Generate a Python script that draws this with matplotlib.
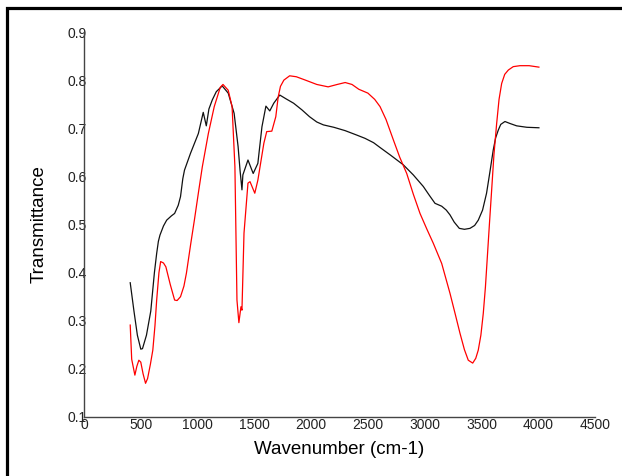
import numpy as np
import matplotlib
matplotlib.use('Agg')
import matplotlib.pyplot as plt
from matplotlib.patches import Rectangle

plt.rcParams['font.family'] = ['Liberation Sans', 'DejaVu Sans']

# 黑色曲线
black_x = [407, 440, 470, 500, 515, 550, 588, 620, 640, 655, 669, 700, 728, 770, 798, 830,
           850, 870, 885, 938, 1007, 1050, 1077, 1100, 1130, 1165, 1217, 1270, 1322, 1357,
           1374, 1391, 1399, 1444, 1490, 1531, 1567, 1602, 1636, 1671, 1724, 1780, 1846,
           1920, 1986, 2050, 2108, 2200, 2300, 2400, 2475, 2550, 2607, 2700, 2812, 2900,
           2988, 3040, 3091, 3150, 3190, 3223, 3260, 3305, 3350, 3399, 3440, 3472, 3510,
           3545, 3575, 3604, 3625, 3648, 3670, 3707, 3750, 3810, 3900, 4006]
black_y = [0.379, 0.320, 0.270, 0.241, 0.242, 0.270, 0.320, 0.400, 0.440, 0.465, 0.478, 0.497,
           0.509, 0.518, 0.523, 0.540, 0.558, 0.595, 0.613, 0.648, 0.689, 0.733, 0.705, 0.740,
           0.759, 0.776, 0.788, 0.773, 0.731, 0.662, 0.613, 0.572, 0.603, 0.634, 0.606, 0.627,
           0.703, 0.746, 0.736, 0.752, 0.769, 0.761, 0.752, 0.738, 0.724, 0.713, 0.707, 0.702,
           0.695, 0.686, 0.679, 0.670, 0.660, 0.644, 0.624, 0.603, 0.579, 0.561, 0.544, 0.538,
           0.530, 0.520, 0.505, 0.492, 0.490, 0.492, 0.498, 0.509, 0.530, 0.565, 0.610, 0.655,
           0.680, 0.696, 0.708, 0.714, 0.710, 0.705, 0.702, 0.701]

# 红色曲线
red_x = [407, 420, 448, 465, 483, 500, 520, 542, 560, 585, 606, 625, 640, 660, 675, 700, 721,
         760, 798, 820, 850, 880, 902, 940, 972, 1010, 1042, 1095, 1147, 1200, 1224, 1270,
         1304, 1329, 1347, 1364, 1382, 1391, 1409, 1444, 1462, 1504, 1531, 1584, 1609, 1654,
         1689, 1710, 1730, 1760, 1811, 1870, 1950, 2050, 2150, 2230, 2300, 2360, 2420, 2500,
         2560, 2607, 2660, 2724, 2780, 2842, 2900, 2959, 3020, 3076, 3150, 3190, 3223, 3270,
         3311, 3350, 3384, 3423, 3450, 3472, 3495, 3516, 3535, 3552, 3570, 3590, 3610, 3634,
         3655, 3678, 3705, 3737, 3780, 3839, 3920, 4006]
red_y = [0.291, 0.220, 0.187, 0.205, 0.218, 0.214, 0.190, 0.170, 0.180, 0.210, 0.239, 0.290,
         0.343, 0.400, 0.423, 0.420, 0.412, 0.375, 0.343, 0.342, 0.350, 0.372, 0.399, 0.460,
         0.509, 0.570, 0.620, 0.689, 0.745, 0.785, 0.791, 0.779, 0.745, 0.620, 0.343, 0.296,
         0.329, 0.322, 0.482, 0.586, 0.589, 0.565, 0.592, 0.669, 0.693, 0.694, 0.724, 0.765,
         0.787, 0.800, 0.809, 0.807, 0.800, 0.791, 0.786, 0.791, 0.795, 0.791, 0.781, 0.773,
         0.760, 0.745, 0.718, 0.676, 0.640, 0.606, 0.563, 0.523, 0.490, 0.461, 0.419, 0.385,
         0.357, 0.313, 0.274, 0.240, 0.218, 0.212, 0.222, 0.239, 0.270, 0.315, 0.370, 0.433,
         0.500, 0.572, 0.645, 0.710, 0.760, 0.793, 0.812, 0.821, 0.828, 0.830, 0.830, 0.827]

x_ticks = [0, 500, 1000, 1500, 2000, 2500, 3000, 3500, 4000, 4500]
y_ticks = [0.1, 0.2, 0.3, 0.4, 0.5, 0.6, 0.7, 0.8, 0.9]

W, H = 622, 476
fig = plt.figure(figsize=(W / 100, H / 100), dpi=100)
ax = fig.add_axes([84 / W, 1 - 417 / H, (595 - 84) / W, (417 - 32) / H])

ax.plot(black_x, black_y, color='#111111', lw=0.9)
ax.plot(red_x, red_y, color='#ff0000', lw=0.9)

ax.set_xlim(0, 4500)
ax.set_ylim(0.1, 0.9)
ax.set_xticks(x_ticks)
ax.set_xticklabels([str(v) for v in x_ticks])
ax.set_yticks(y_ticks)
ax.set_yticklabels([f'{v:.1f}' for v in y_ticks])
ax.tick_params(length=0, labelsize=10, labelcolor='#222222')
ax.tick_params(axis='x', pad=1)
ax.tick_params(axis='y', pad=-2)

for s in ['top', 'right']:
    ax.spines[s].set_visible(False)
for s in ['left', 'bottom']:
    ax.spines[s].set_color('#444444')
    ax.spines[s].set_linewidth(1.0)

ax.set_xlabel('Wavenumber (cm-1)', fontsize=13.5, labelpad=6)
ax.set_ylabel('Transmittance', fontsize=13.5, labelpad=14)

# 外框
fig.patches.append(Rectangle((7.5 / W, -0.1), 1.2, 1 - 7.5 / H + 0.1,
                             transform=fig.transFigure, fill=False,
                             edgecolor='black', lw=2.3))

fig.savefig('out.png', dpi=100)
